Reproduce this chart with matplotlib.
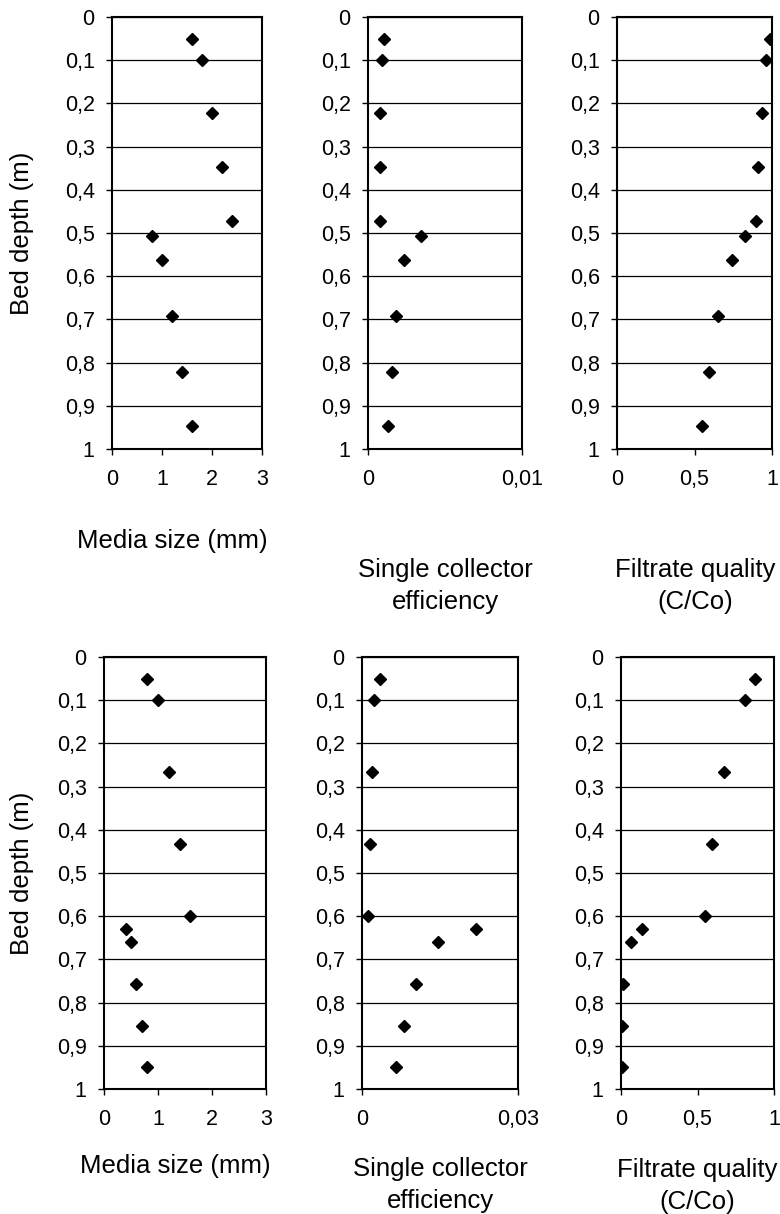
import numpy as np
import matplotlib
matplotlib.use("Agg")
import matplotlib.pyplot as plt

plt.rcParams['font.family'] = ['Liberation Sans', 'DejaVu Sans']

# Data (bed depth in m)
depth_top = [0.05, 0.10, 0.223, 0.347, 0.473, 0.506, 0.562, 0.691, 0.822, 0.947]
media_top = [1.6, 1.8, 2.0, 2.2, 2.4, 0.8, 1.0, 1.2, 1.4, 1.6]
eff_top = [0.00104, 0.00091, 0.00076, 0.00076, 0.00076, 0.00342, 0.00234, 0.0018, 0.00156, 0.0013]
cco_top = [0.99, 0.964, 0.936, 0.91, 0.90, 0.824, 0.743, 0.653, 0.593, 0.55]

depth_bot = [0.05, 0.10, 0.267, 0.433, 0.60, 0.63, 0.66, 0.757, 0.855, 0.95]
media_bot = [0.8, 1.0, 1.2, 1.4, 1.6, 0.4, 0.5, 0.6, 0.7, 0.8]
eff_bot = [0.0034, 0.0023, 0.0019, 0.0015, 0.0012, 0.022, 0.0147, 0.0103, 0.0081, 0.0066]
cco_bot = [0.873, 0.808, 0.676, 0.596, 0.549, 0.136, 0.067, 0.013, 0.004, 0.004]

depth_ticks = np.round(np.arange(0, 1.01, 0.1), 1)
depth_labels = ["0"] + ["0,%d" % i for i in range(1, 10)] + ["1"]

W, H = 780, 1214
fig = plt.figure(figsize=(W / 100, H / 100), dpi=100)


def rect(x0, x1, y0, y1):
    return [x0 / W, 1 - y1 / H, (x1 - x0) / W, (y1 - y0) / H]


def panel(box, x, y, xmax, xticks, xlabels):
    ax = fig.add_axes(rect(*box))
    ax.plot(x, y, linestyle="None", marker="D", color="black", markersize=6.6)
    ax.set_xlim(0, xmax)
    ax.set_ylim(1, 0)
    ax.set_yticks(depth_ticks)
    ax.set_yticklabels(depth_labels)
    ax.set_xticks(xticks)
    ax.set_xticklabels(xlabels)
    ax.yaxis.grid(True, color="black", linewidth=0.9)
    ax.set_axisbelow(True)
    for s in ax.spines.values():
        s.set_linewidth(1.5)
    ax.tick_params(direction="out", length=4.5, width=1, labelsize=15.5)
    ax.tick_params(axis="y", pad=8)
    ax.tick_params(axis="x", pad=10)
    return ax


top = (17, 449)
bot = (657, 1089)

panel((112, 262) + top, media_top, depth_top, 3, [0, 1, 2, 3], ["0", "1", "2", "3"])
panel((368, 522) + top, eff_top, depth_top, 0.01, [0, 0.01], ["0", "0,01"])
panel((617, 772) + top, cco_top, depth_top, 1, [0, 0.5, 1], ["0", "0,5", "1"])
panel((104, 266) + bot, media_bot, depth_bot, 3, [0, 1, 2, 3], ["0", "1", "2", "3"])
panel((362, 518) + bot, eff_bot, depth_bot, 0.03, [0, 0.03], ["0", "0,03"])
panel((621, 774) + bot, cco_bot, depth_bot, 1, [0, 0.5, 1], ["0", "0,5", "1"])

fs = 18.5
ls = 1.4
# axis titles
fig.text(22 / W, 1 - 233 / H, "Bed depth (m)", rotation=90, ha="center", va="center", fontsize=fs)
fig.text(22 / W, 1 - 873 / H, "Bed depth (m)", rotation=90, ha="center", va="center", fontsize=fs)

fig.text(172 / W, 1 - 541 / H, "Media size (mm)", ha="center", va="center", fontsize=fs)
fig.text(445 / W, 1 - 586 / H, "Single collector\nefficiency", ha="center", va="center", fontsize=fs, linespacing=ls)
fig.text(695 / W, 1 - 586 / H, "Filtrate quality\n(C/Co)", ha="center", va="center", fontsize=fs, linespacing=ls)

fig.text(175 / W, 1 - 1166 / H, "Media size (mm)", ha="center", va="center", fontsize=fs)
fig.text(440 / W, 1 - 1185 / H, "Single collector\nefficiency", ha="center", va="center", fontsize=fs, linespacing=ls)
fig.text(697 / W, 1 - 1186 / H, "Filtrate quality\n(C/Co)", ha="center", va="center", fontsize=fs, linespacing=ls)

fig.savefig("out.png", dpi=100)
